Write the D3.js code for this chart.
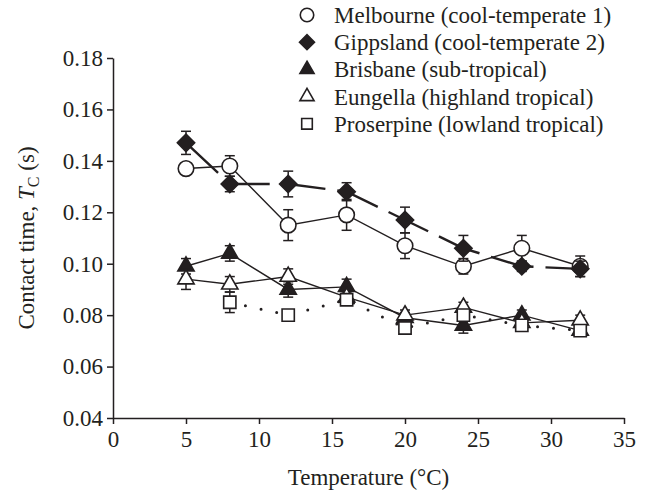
<!DOCTYPE html>
<html>
<head>
<meta charset="utf-8">
<script src="https://cdn.jsdelivr.net/npm/d3@7"></script>
<style>
  body { margin: 0; background: #fff; }
</style>
</head>
<body>
<svg id="chart" width="651" height="494"></svg>
<script>
// temperatures (°C)
const temps = [5, 8, 12, 16, 20, 24, 28, 32];

// mean contact time (s) and error for each population
const melbourne     = [0.137, 0.138, 0.115, 0.119, 0.107, 0.099, 0.106, 0.099];
const melbourneErr  = [0.002, 0.004, 0.006, 0.006, 0.005, 0.003, 0.005, 0.004];
const gippsland     = [0.147, 0.131, 0.131, 0.128, 0.117, 0.106, 0.099, 0.098];
const gippslandErr  = [0.0045, 0.003, 0.005, 0.0035, 0.005, 0.005, 0.002, 0.003];
const brisbane      = [0.099, 0.104, 0.090, 0.091, 0.079, 0.076, 0.080, 0.074];
const brisbaneErr   = [0.003, 0.003, 0.003, 0.003, 0.002, 0.003, 0.002, 0.002];
const eungella      = [0.094, 0.092, 0.095, 0.087, 0.080, 0.083, 0.077, 0.078];
const eungellaErr   = [0.004, 0.003, 0.003, 0.002, 0.002, 0.002, 0.002, 0.002];
const proserpineT   = [8, 12, 16, 20, 24, 28, 32];
const proserpine    = [0.085, 0.080, 0.086, 0.075, 0.080, 0.076, 0.074];
const proserpineErr = [0.004, 0.001, 0.002, 0.002, 0.002, 0.002, 0.002];

const xTicks = [0, 5, 10, 15, 20, 25, 30, 35];
const yTicks = [0.04, 0.06, 0.08, 0.10, 0.12, 0.14, 0.16, 0.18];

const series = [
  { name: "Melbourne (cool-temperate 1)", t: temps, v: melbourne, e: melbourneErr, sym: "circle", fill: "#fff", dash: null, lw: 1.4 },
  { name: "Gippsland (cool-temperate 2)", t: temps, v: gippsland, e: gippslandErr, sym: "diamond", fill: "#231f20", dash: "44,12", lw: 2.4 },
  { name: "Brisbane (sub-tropical)", t: temps, v: brisbane, e: brisbaneErr, sym: "triangle", fill: "#231f20", dash: null, lw: 1.4 },
  { name: "Eungella (highland tropical)", t: temps, v: eungella, e: eungellaErr, sym: "triangle", fill: "#fff", dash: null, lw: 1.4 },
  { name: "Proserpine (lowland tropical)", t: proserpineT, v: proserpine, e: proserpineErr, sym: "square", fill: "#fff", dash: "0,16", lw: 3 }
];

const FONT = "'Liberation Serif', 'Times New Roman', Times, serif";
const FS = "23px";
const svg = d3.select("#chart");
const ink = "#231f20";

const x = d3.scaleLinear().domain([0, 35]).range([113, 624]);
const y = d3.scaleLinear().domain([0.04, 0.18]).range([418, 58]);

// axes
const xAxis = svg.append("g")
  .attr("transform", `translate(0,${y(0.04)})`)
  .call(d3.axisBottom(x).tickValues(xTicks).tickSize(6).tickPadding(7).tickSizeOuter(0));
const yAxis = svg.append("g")
  .attr("transform", `translate(${x(0)},0)`)
  .call(d3.axisLeft(y).tickValues(yTicks).tickSize(6).tickPadding(4).tickSizeOuter(0)
    .tickFormat(d3.format(".2f")));
[xAxis, yAxis].forEach(g => {
  g.attr("font-family", null);
  g.selectAll("path, line").attr("stroke", ink).attr("stroke-width", 1.5);
  g.selectAll("text").style("font-family", FONT).style("font-size", FS).attr("fill", ink);
});

// axis titles
svg.append("text")
  .attr("x", x(17.5)).attr("y", 485)
  .attr("text-anchor", "middle")
  .style("font-family", FONT).style("font-size", FS).attr("fill", ink)
  .text("Temperature (°C)");

const yt = svg.append("text")
  .attr("transform", `translate(34,${y(0.11)}) rotate(-90)`)
  .attr("text-anchor", "middle")
  .style("font-family", FONT).style("font-size", FS).attr("fill", ink);
yt.append("tspan").text("Contact time, ");
yt.append("tspan").style("font-style", "italic").text("T");
yt.append("tspan").attr("dy", 5).style("font-size", "16px").text("C");
yt.append("tspan").attr("dy", -5).text(" (s)");

function symPath(type, size) {
  if (type === "circle") return d3.symbol(d3.symbolCircle, size)();
  if (type === "triangle") return d3.symbol(d3.symbolTriangle, size)();
  return d3.symbol(d3.symbolSquare, size)();
}
const symSize = { circle: 190, diamond: 150, triangle: 115, square: 150 };

series.forEach(s => {
  const pts = s.t.map((t, i) => ({ t: t, v: s.v[i], e: s.e[i] }));
  const g = svg.append("g");

  // connecting line
  g.append("path")
    .datum(pts)
    .attr("fill", "none")
    .attr("stroke", ink)
    .attr("stroke-width", s.lw)
    .attr("stroke-linecap", s.sym === "square" ? "round" : "butt")
    .attr("stroke-dasharray", s.dash)
    .attr("d", d3.line().x(d => x(d.t)).y(d => y(d.v)));

  // error bars
  const eb = g.selectAll(".eb").data(pts).enter().append("g");
  eb.append("line")
    .attr("x1", d => x(d.t)).attr("x2", d => x(d.t))
    .attr("y1", d => y(d.v - d.e)).attr("y2", d => y(d.v + d.e))
    .attr("stroke", ink).attr("stroke-width", 1.5);
  eb.append("line")
    .attr("x1", d => x(d.t) - 5).attr("x2", d => x(d.t) + 5)
    .attr("y1", d => y(d.v + d.e)).attr("y2", d => y(d.v + d.e))
    .attr("stroke", ink).attr("stroke-width", 1.5);
  eb.append("line")
    .attr("x1", d => x(d.t) - 5).attr("x2", d => x(d.t) + 5)
    .attr("y1", d => y(d.v - d.e)).attr("y2", d => y(d.v - d.e))
    .attr("stroke", ink).attr("stroke-width", 1.5);

  // markers
  g.selectAll(".mk").data(pts).enter().append("path")
    .attr("d", symPath(s.sym, symSize[s.sym]))
    .attr("transform", d => `translate(${x(d.t)},${y(d.v)})` + (s.sym === "diamond" ? " rotate(45)" : ""))
    .attr("fill", s.fill)
    .attr("stroke", ink)
    .attr("stroke-width", 1.6);
});

// legend
const legend = svg.append("g");
series.forEach((s, i) => {
  const ly = 15 + i * 27.2;
  legend.append("path")
    .attr("d", symPath(s.sym, symSize[s.sym] * 0.75))
    .attr("transform", `translate(307,${ly})` + (s.sym === "diamond" ? " rotate(45)" : ""))
    .attr("fill", s.fill)
    .attr("stroke", ink)
    .attr("stroke-width", 1.6);
  legend.append("text")
    .attr("x", 334).attr("y", ly)
    .attr("dy", "0.35em")
    .style("font-family", FONT).style("font-size", FS).attr("fill", ink)
    .text(s.name);
});
</script>
</body>
</html>
